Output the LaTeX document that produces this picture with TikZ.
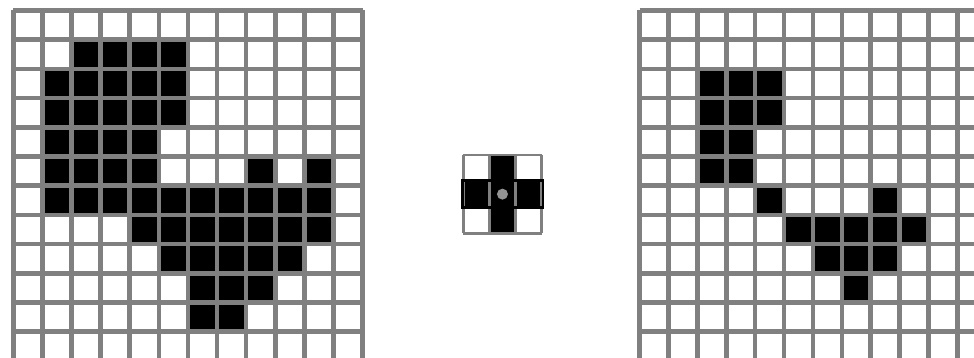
\documentclass[tikz,border=0pt]{standalone}
\begin{document}
\begin{tikzpicture}[x=1pt,y=-1pt]
\definecolor{gridgray}{RGB}{128,128,128}
\tikzset{
  gridline/.style={draw=gridgray,line width=4.6pt},
  seline/.style={draw=gridgray,line width=2.4pt},
  blackcell/.style={fill=black}
}
\useasboundingbox (0,0) rectangle (974,358);
\clip (0,0) rectangle (974,358);
\fill[white] (0,0) rectangle (974,358);

% ---------- left grid (input image) ----------
\def\lx{13.3}\def\ly{10.5}\def\lpx{29.1}\def\lpy{29.2}
\foreach \r/\c in {1/2,1/3,1/4,1/5,
  2/1,2/2,2/3,2/4,2/5,
  3/1,3/2,3/3,3/4,3/5,
  4/1,4/2,4/3,4/4,
  5/1,5/2,5/3,5/4,5/8,5/10,
  6/1,6/2,6/3,6/4,6/5,6/6,6/7,6/8,6/9,6/10,
  7/4,7/5,7/6,7/7,7/8,7/9,7/10,
  8/5,8/6,8/7,8/8,8/9,
  9/6,9/7,9/8,
  10/6,10/7}
  \fill[blackcell] (\lx+\c*\lpx,\ly+\r*\lpy) rectangle ++(\lpx,\lpy);
\foreach \i in {0,...,12}{
  \draw[gridline] (\lx+\i*\lpx,\ly) -- (\lx+\i*\lpx,\ly+12*\lpy);
  \draw[gridline] (\lx,\ly+\i*\lpy) -- (\lx+12*\lpx,\ly+\i*\lpy);
}

% ---------- structuring element ----------
\def\sx{463.3}\def\sy{155}\def\sp{26.1}
\foreach \r/\c in {0/1,1/0,1/1,1/2,2/1}
  \fill[blackcell] (\sx+\c*\sp,\sy+\r*\sp) rectangle ++(\sp,\sp);
\foreach \i in {0,...,3}{
  \draw[seline] (\sx+\i*\sp,\sy) -- (\sx+\i*\sp,\sy+3*\sp);
  \draw[seline] (\sx,\sy+\i*\sp) -- (\sx+3*\sp,\sy+\i*\sp);
}
\draw[black,line width=2.6pt] (\sx-1,\sy+\sp-0.5) rectangle (\sx+3*\sp+1.5,\sy+2*\sp+0.5);
\fill[gridgray!85] (\sx+1.5*\sp,\sy+1.5*\sp) circle (5.5);

% ---------- right grid (eroded image) ----------
\def\rx{639.5}\def\ry{10.5}\def\rpx{28.9}\def\rpy{29.2}
\foreach \r/\c in {2/2,2/3,2/4,
  3/2,3/3,3/4,
  4/2,4/3,
  5/2,5/3,
  6/4,6/8,
  7/5,7/6,7/7,7/8,7/9,
  8/6,8/7,8/8,
  9/7}
  \fill[blackcell] (\rx+\c*\rpx,\ry+\r*\rpy) rectangle ++(\rpx,\rpy);
\foreach \i in {0,...,12}{
  \draw[gridline] (\rx+\i*\rpx,\ry) -- (\rx+\i*\rpx,\ry+12*\rpy);
  \draw[gridline] (\rx,\ry+\i*\rpy) -- (\rx+12*\rpx,\ry+\i*\rpy);
}
\end{tikzpicture}
\end{document}
